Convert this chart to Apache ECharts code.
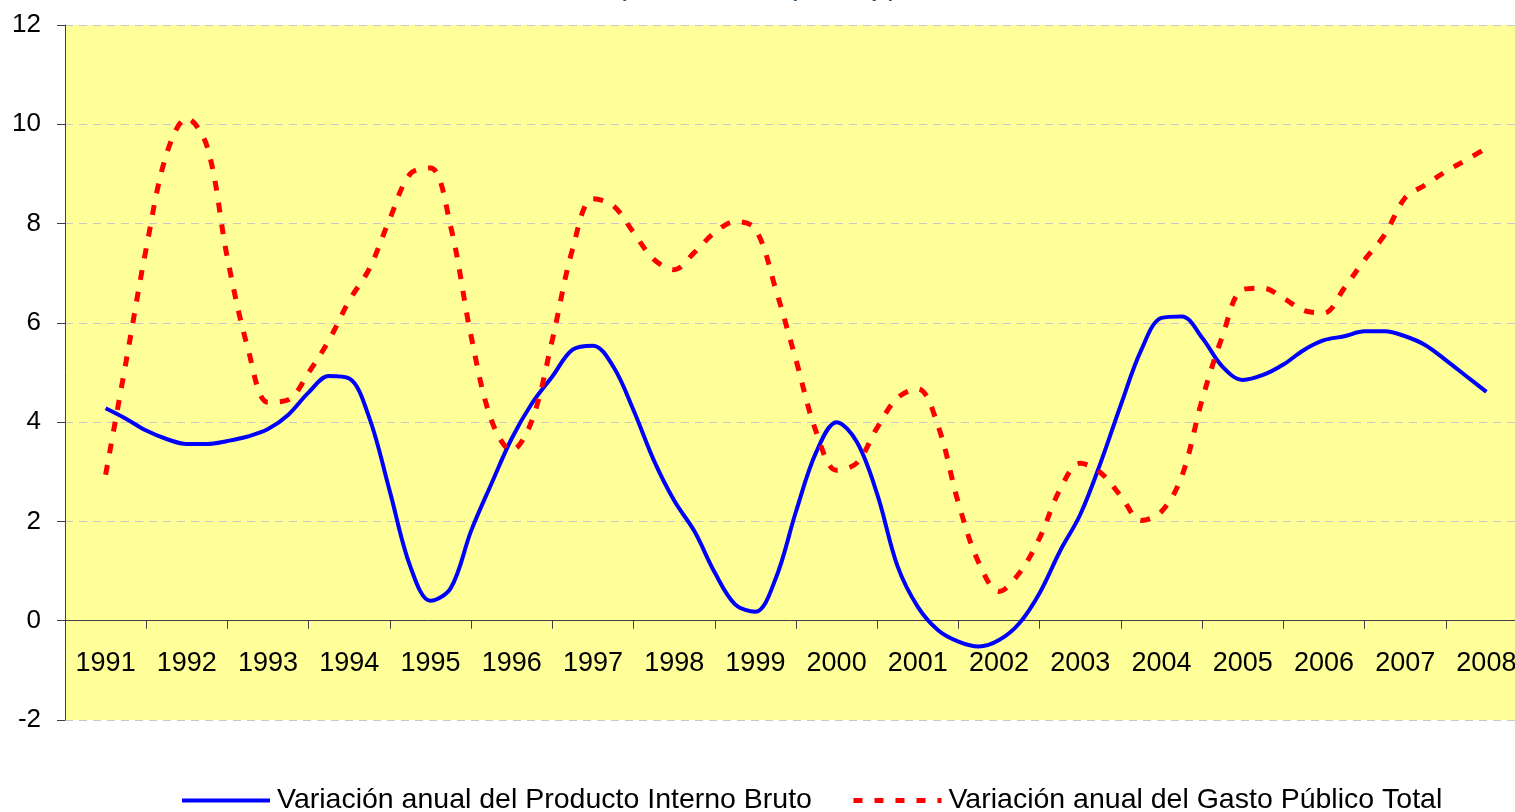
<!DOCTYPE html>
<html>
<head>
<meta charset="utf-8">
<title>Variación anual PIB y Gasto Público</title>
<script src="https://cdn.jsdelivr.net/npm/echarts@6/dist/echarts.min.js"></script>
<style>
  html, body { margin: 0; padding: 0; background: #ffffff; }
  #chart { width: 1515px; height: 812px; }
</style>
</head>
<body>
<div id="chart"></div>
<script>
// años (etiquetas del eje horizontal)
const years = ['1991', '1992', '1993', '1994', '1995', '1996', '1997', '1998', '1999',
  '2000', '2001', '2002', '2003', '2004', '2005', '2006', '2007', '2008'];

// datos trimestrales, desde mediados de 1991 hasta mediados de 2008
const pibValues = [
  4.28, 4.07, 3.83, 3.66, 3.56, 3.56, 3.62, 3.71, 3.86, 4.15, 4.60, 4.93,
  4.88, 4.07, 2.60, 1.10, 0.40, 0.66, 1.81, 2.76, 3.67, 4.38, 4.92, 5.46,
  5.54, 5.12, 4.24, 3.23, 2.42, 1.80, 0.97, 0.33, 0.18, 0.85, 2.20, 3.40,
  4.00, 3.60, 2.55, 1.10, 0.28, -0.19, -0.42, -0.52, -0.39, -0.05, 0.56, 1.40,
  2.14, 3.18, 4.35, 5.45, 6.10, 6.13, 5.70, 5.12, 4.85, 4.95, 5.16, 5.45,
  5.65, 5.73, 5.83, 5.83, 5.73, 5.55, 5.25, 4.93, 4.61
];
const gastoValues = [
  2.94, 5.20, 7.50, 9.40, 10.12, 9.55, 7.30, 5.50, 4.40, 4.45, 5.00, 5.65,
  6.45, 7.10, 8.10, 9.00, 9.12, 7.93, 5.73, 4.04, 3.43, 4.04, 5.66, 7.49,
  8.50, 8.36, 7.82, 7.28, 7.07, 7.42, 7.82, 8.04, 7.89, 6.68, 5.25, 3.80,
  3.03, 3.18, 3.89, 4.49, 4.67, 3.92, 2.37, 1.17, 0.59, 0.96, 1.67, 2.64,
  3.17, 2.98, 2.51, 2.02, 2.20, 2.91, 4.45, 5.73, 6.67, 6.70, 6.50, 6.25,
  6.20, 6.70, 7.27, 7.78, 8.52, 8.78, 9.05, 9.28, 9.52
];

const pibName = 'Variación anual del Producto Interno Bruto';
const gastoName = 'Variación anual del Gasto Público Total';

// cada valor es un trimestre: x = índice del año + fracción
const toPoints = (list) => list.map((v, i) => [i / 4, v]);

const chart = echarts.init(document.getElementById('chart'));
chart.setOption({
  animation: false,
  backgroundColor: '#ffffff',
  textStyle: { fontFamily: 'Liberation Sans, Arial, sans-serif' },
  title: {
    text: '(Tasas anuales, en porcentaje)',
    left: 'center',
    top: -23,
    textStyle: { color: '#1F4E79', fontSize: 19, fontWeight: 'bold' }
  },
  grid: {
    left: 65,
    top: 25,
    width: 1462,
    height: 695,
    show: true,
    backgroundColor: '#FFFF99',
    borderWidth: 0,
    containLabel: false,
    outerBoundsMode: 'none'
  },
  legend: {
    left: 180,
    top: 786,
    padding: 0,
    itemWidth: 88,
    itemHeight: 14,
    itemGap: 39,
    itemStyle: { opacity: 0 },
    textStyle: { fontSize: 28.5, color: '#000000', padding: [0, 0, 0, 2] },
    data: [
      { name: pibName, lineStyle: { width: 4 } },
      { name: gastoName, lineStyle: { width: 5, type: [9, 12] } }
    ]
  },
  xAxis: [
    {
      type: 'category',
      data: years,
      boundaryGap: true,
      // el eje de años cruza en y = 0 (dos unidades por encima del mínimo)
      offset: -695 / 7,
      axisLine: { onZero: false, lineStyle: { color: '#404040', width: 1 } },
      axisTick: { show: true, length: 8, lineStyle: { color: '#404040' } },
      axisLabel: { fontSize: 27, color: '#000000', margin: 29, interval: 0 },
      splitLine: { show: false }
    },
    {
      type: 'value',
      min: -0.5,
      max: 17.5,
      show: false
    }
  ],
  yAxis: {
    type: 'value',
    min: -2,
    max: 12,
    interval: 2,
    axisLine: { show: true, onZero: false, lineStyle: { color: '#404040', width: 1 } },
    axisTick: { show: true, length: 8, lineStyle: { color: '#404040' } },
    axisLabel: { fontSize: 26, color: '#000000', margin: 24 },
    splitLine: { show: true, lineStyle: { color: '#C8C8C8', type: [8, 6], width: 1 } }
  },
  series: [
    {
      name: pibName,
      type: 'line',
      xAxisIndex: 1,
      data: toPoints(pibValues),
      smooth: 0.35,
      symbol: 'none',
      lineStyle: { color: '#0000FF', width: 4 },
      itemStyle: { color: '#0000FF' }
    },
    {
      name: gastoName,
      type: 'line',
      xAxisIndex: 1,
      data: toPoints(gastoValues),
      smooth: 0.35,
      symbol: 'none',
      lineStyle: { color: '#FF0000', width: 5, type: [10, 12] },
      itemStyle: { color: '#FF0000' }
    }
  ]
});
</script>
</body>
</html>
